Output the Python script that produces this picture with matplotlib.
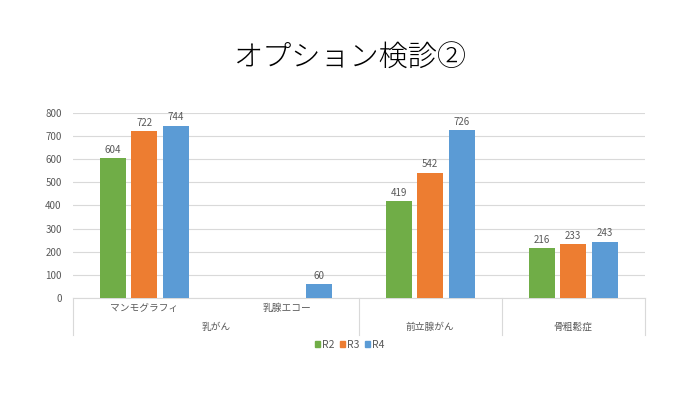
import numpy as np
import matplotlib.pyplot as plt
from matplotlib.patches import Patch

plt.rcParams['font.family'] = ['Noto Sans CJK JP', 'DejaVu Sans']

# データ
sub_labels = ['マンモグラフィ', '乳腺エコー', '前立腺がん', '骨粗鬆症']
groups = [('乳がん', 0, 1), ('前立腺がん', 2, 2), ('骨粗鬆症', 3, 3)]
series = ['R2', 'R3', 'R4']
r2 = [604, np.nan, 419, 216]
r3 = [722, np.nan, 542, 233]
r4 = [744, 60, 726, 243]
colors = ['#70AD47', '#ED7D31', '#5B9BD5']

grey = '#595959'
fig = plt.figure(figsize=(7, 3.93), dpi=100)
ax = fig.add_axes([0.104, 0.2417, 0.817, 0.4708])

x = np.arange(len(sub_labels))
offs = [-0.22, 0, 0.22]
for vals, off, c in zip([r2, r3, r4], offs, colors):
    ax.bar(x + off, vals, width=0.18, color=c, zorder=3)
    for xi, v in zip(x, vals):
        if not np.isnan(v):
            ax.text(xi + off, v + 15, f'{v:.0f}', ha='center', va='bottom',
                    fontsize=7, color=grey)

ax.set_xlim(-0.5, len(sub_labels) - 0.5)
ax.set_ylim(0, 800)
ax.set_yticks(range(0, 801, 100))
ax.yaxis.grid(True, color='#D9D9D9', lw=0.8, zorder=0)
ax.tick_params(axis='y', length=0, labelsize=7, labelcolor=grey, pad=8)
ax.set_xticks([])
for s in ['top', 'right', 'left']:
    ax.spines[s].set_visible(False)
ax.spines['bottom'].set_color('#D9D9D9')

# 2段のカテゴリ軸
tr = ax.get_xaxis_transform()
for xv in [-0.5, 1.5, 2.5, 3.5]:
    ax.plot([xv, xv], [0, -0.2], color='#D9D9D9', lw=0.8, transform=tr, clip_on=False)
for i in range(2):
    ax.text(x[i], -0.055, sub_labels[i], transform=tr, ha='center', va='center',
            fontsize=7, color=grey)
for name, a, b in groups:
    ax.text((a + b) / 2, -0.155, name, transform=tr, ha='center', va='center',
            fontsize=7, color=grey)

fig.text(0.5, 0.852, 'オプション検診②', ha='center', va='center', fontsize=21,
         color='black', fontweight='light')

handles = [Patch(color=c, label=s) for s, c in zip(series, colors)]
fig.legend(handles=handles, loc='center', bbox_to_anchor=(0.5, 0.122), ncol=3,
           frameon=False, fontsize=7.5, handlelength=0.5, handleheight=0.5,
           handletextpad=0.2, columnspacing=0.5, labelcolor=grey)

fig.savefig('out.png', dpi=100, facecolor='white')
